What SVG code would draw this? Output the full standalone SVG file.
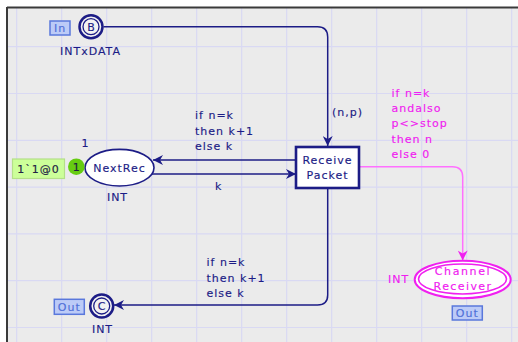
<svg xmlns="http://www.w3.org/2000/svg" width="518" height="342" viewBox="0 0 518 342">
  <style>
    text { font-family: "DejaVu Sans", Verdana, sans-serif; font-size: 11px; letter-spacing: 1px; stroke-width: 0.15px; }
    .navy { fill: #1c1c86; stroke: #1c1c86; }
    .mag { fill: #f020f0; stroke: #f020f0; }
    .grid line { stroke: #d9d9f3; stroke-width: 1.2; }
    .arc { fill: none; stroke: #1c1c86; stroke-width: 1.5; }
    .arcm { fill: none; stroke: #ff70ff; stroke-width: 1.5; }
    .tag rect { fill: #bccbf7; stroke: #5a78dc; stroke-width: 1.5; }
    .tag text { fill: #4f6fd8; stroke: #4f6fd8; }
  </style>
  <defs>
    <marker id="ah" viewBox="0 0 10 10" refX="10" refY="5" markerUnits="userSpaceOnUse" markerWidth="11" markerHeight="10" orient="auto">
      <path d="M0 0 L10 5 L0 10 L3 5 Z" fill="#1c1c86"/>
    </marker>
    <marker id="ahm" viewBox="0 0 10 10" refX="10" refY="5" markerUnits="userSpaceOnUse" markerWidth="11" markerHeight="10" orient="auto">
      <path d="M0 0 L10 5 L0 10 L3 5 Z" fill="#f020f0"/>
    </marker>
  </defs>

  <!-- page -->
  <rect x="0" y="0" width="518" height="342" fill="#ffffff"/>
  <rect x="7" y="7.5" width="511" height="334.5" fill="#ebebeb"/>
  <g class="grid">
    <line x1="16.7" y1="8" x2="16.7" y2="342"/>
    <line x1="61.7" y1="8" x2="61.7" y2="342"/>
    <line x1="106.7" y1="8" x2="106.7" y2="342"/>
    <line x1="151.7" y1="8" x2="151.7" y2="342"/>
    <line x1="196.7" y1="8" x2="196.7" y2="342"/>
    <line x1="241.7" y1="8" x2="241.7" y2="342"/>
    <line x1="286.7" y1="8" x2="286.7" y2="342"/>
    <line x1="331.7" y1="8" x2="331.7" y2="342"/>
    <line x1="376.7" y1="8" x2="376.7" y2="342"/>
    <line x1="421.7" y1="8" x2="421.7" y2="342"/>
    <line x1="466.7" y1="8" x2="466.7" y2="342"/>
    <line x1="511.7" y1="8" x2="511.7" y2="342"/>
    <line x1="7" y1="46.7" x2="518" y2="46.7"/>
    <line x1="7" y1="93.5" x2="518" y2="93.5"/>
    <line x1="7" y1="140.3" x2="518" y2="140.3"/>
    <line x1="7" y1="187.1" x2="518" y2="187.1"/>
    <line x1="7" y1="233.9" x2="518" y2="233.9"/>
    <line x1="7" y1="280.7" x2="518" y2="280.7"/>
    <line x1="7" y1="327.5" x2="518" y2="327.5"/>
  </g>
  <line x1="7" y1="7.5" x2="518" y2="7.5" stroke="#3a3a3a" stroke-width="2"/>
  <line x1="7" y1="7" x2="7" y2="342" stroke="#3a3a3a" stroke-width="2"/>

  <!-- connectors -->
  <g id="connectors">
    <path class="arc" d="M103.5 26.7 H317.5 Q327.7 26.7 327.7 37 V146" marker-end="url(#ah)"/>
    <text class="navy" x="332" y="116">(n,p)</text>

    <path class="arc" d="M296 160 H153" marker-end="url(#ah)"/>
    <text class="navy" x="195" y="119">if n=k</text>
    <text class="navy" x="195" y="134.5">then k+1</text>
    <text class="navy" x="195" y="150">else k</text>

    <path class="arc" d="M152 174 H296" marker-end="url(#ah)"/>
    <text class="navy" x="215" y="190">k</text>

    <path class="arc" d="M327.7 188.5 V295 Q327.7 305 317.5 305 H114" marker-end="url(#ah)"/>
    <text class="navy" x="206.5" y="266">if n=k</text>
    <text class="navy" x="206.5" y="281.5">then k+1</text>
    <text class="navy" x="206.5" y="297">else k</text>

    <path class="arcm" d="M359.5 166.7 H452.5 Q462.7 166.7 462.7 177 V260.5" marker-end="url(#ahm)"/>
    <text class="mag" x="391.5" y="96.5">if n=k</text>
    <text class="mag" x="391.5" y="111.8">andalso</text>
    <text class="mag" x="391.5" y="127">p&lt;&gt;stop</text>
    <text class="mag" x="391.5" y="142.5">then n</text>
    <text class="mag" x="391.5" y="158">else 0</text>
  </g>

  <!-- input port place B -->
  <g id="place-B">
    <circle cx="91" cy="26.7" r="11.5" fill="#f2f2f2" stroke="#1c1c86" stroke-width="2.5"/>
    <circle cx="91" cy="26.7" r="8" fill="none" stroke="#1c1c86" stroke-width="1.3"/>
    <text class="navy" x="91" y="30.7" text-anchor="middle" style="letter-spacing:0">B</text>
    <text class="navy" x="90.5" y="55" text-anchor="middle">INTxDATA</text>
    <g class="tag">
      <rect x="50" y="21" width="20" height="14"/>
      <text x="60" y="32" text-anchor="middle">In</text>
    </g>
  </g>

  <!-- place NextRec -->
  <g id="place-NextRec">
    <ellipse cx="119.5" cy="167.7" rx="34.5" ry="18.3" fill="#ffffff" stroke="#1c1c86" stroke-width="1.6"/>
    <text class="navy" x="119.5" y="171.5" text-anchor="middle">NextRec</text>
    <text class="navy" x="117.5" y="201" text-anchor="middle">INT</text>
    <text class="navy" x="81.5" y="146.5">1</text>
    <circle cx="76.3" cy="166.7" r="8.3" fill="#66cc11"/>
    <text x="76.3" y="170.7" text-anchor="middle" fill="#1c1c40" stroke="#1c1c40" style="letter-spacing:0">1</text>
    <rect x="12.5" y="159" width="52" height="19.5" fill="#ccff99" stroke="#b4e088" stroke-width="1.2"/>
    <text x="38.5" y="172.5" text-anchor="middle" fill="#222244" stroke="#222244">1`1@0</text>
  </g>

  <!-- transition Receive Packet -->
  <g id="trans-ReceivePacket">
    <rect x="296" y="147" width="63" height="41" fill="#ffffff" stroke="#1c1c86" stroke-width="2.6"/>
    <text class="navy" x="327.5" y="163.5" text-anchor="middle">Receive</text>
    <text class="navy" x="327.5" y="179" text-anchor="middle">Packet</text>
  </g>

  <!-- output port place C -->
  <g id="place-C">
    <circle cx="101.7" cy="306" r="11.5" fill="#f2f2f2" stroke="#1c1c86" stroke-width="2.5"/>
    <circle cx="101.7" cy="306" r="8" fill="none" stroke="#1c1c86" stroke-width="1.3"/>
    <text class="navy" x="101.7" y="310" text-anchor="middle" style="letter-spacing:0">C</text>
    <text class="navy" x="102.5" y="332.5" text-anchor="middle">INT</text>
    <g class="tag">
      <rect x="54.3" y="299.3" width="30" height="15"/>
      <text x="69.3" y="311" text-anchor="middle">Out</text>
    </g>
  </g>

  <!-- output port place Channel Receiver -->
  <g id="place-ChannelReceiver">
    <ellipse cx="462.7" cy="279.5" rx="48" ry="18.8" fill="#ffffff" stroke="#f020f0" stroke-width="2"/>
    <ellipse cx="462.5" cy="279" rx="44" ry="15" fill="none" stroke="#f020f0" stroke-width="1.6"/>
    <text class="mag" x="463" y="275" text-anchor="middle" style="letter-spacing:1.6px">Channel</text>
    <text class="mag" x="463" y="290" text-anchor="middle" style="letter-spacing:1.4px">Receiver</text>
    <text class="mag" x="388" y="283">INT</text>
    <g class="tag">
      <rect x="452.3" y="306" width="30" height="14"/>
      <text x="467.3" y="317.3" text-anchor="middle">Out</text>
    </g>
  </g>
</svg>
